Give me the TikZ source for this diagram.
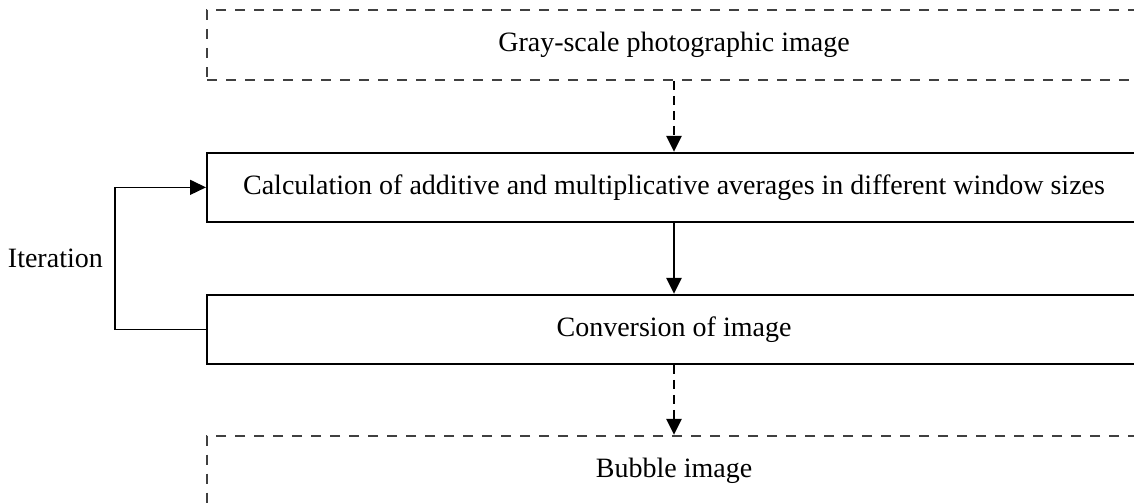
\documentclass[tikz,border=0pt]{standalone}
\usepackage{fontspec}
\setmainfont{Liberation Serif}
\usetikzlibrary{arrows.meta, positioning}
\tikzset{
  stage/.style  ={rectangle, draw=black, line width=2pt, inner sep=0pt,
                  minimum width=934pt, minimum height=69pt, align=center,
                  font=\fontsize{28}{34}\selectfont},
  dstage/.style ={stage, draw=black!75, line width=1.7pt, minimum height=70pt,
                  dash pattern=on 10pt off 9pt},
  arrow/.style  ={-{Triangle[length=16pt, width=15pt]}, line width=2.4pt, black},
  darrow/.style ={arrow, dash pattern=on 9pt off 6pt},
  lbl/.style    ={font=\fontsize{28}{34}\selectfont, inner sep=0pt}
}
\begin{document}
\begin{tikzpicture}[x=1pt, y=1pt]
\useasboundingbox (0,0) rectangle (1134,-503);
\node[dstage] (gray) at (674,-45) {Gray-scale photographic image};
\node[stage, below=71pt of gray] (avg) {Calculation of additive and multiplicative averages in different window sizes};
\node[stage, below=71pt of avg] (conv) {Conversion of image};
\node[dstage, below=70pt of conv] (bub) {Bubble image};
\draw[darrow] (gray) -- (avg);
\draw[arrow]  (avg)  -- (conv);
\draw[darrow] (conv) -- (bub);
\draw[arrow, line width=1.5pt] (conv.west) -- ++(-91pt,0) |- (avg.west);
\node[lbl, anchor=east] (iter) at (103,-258) {Iteration};
\end{tikzpicture}
\end{document}
